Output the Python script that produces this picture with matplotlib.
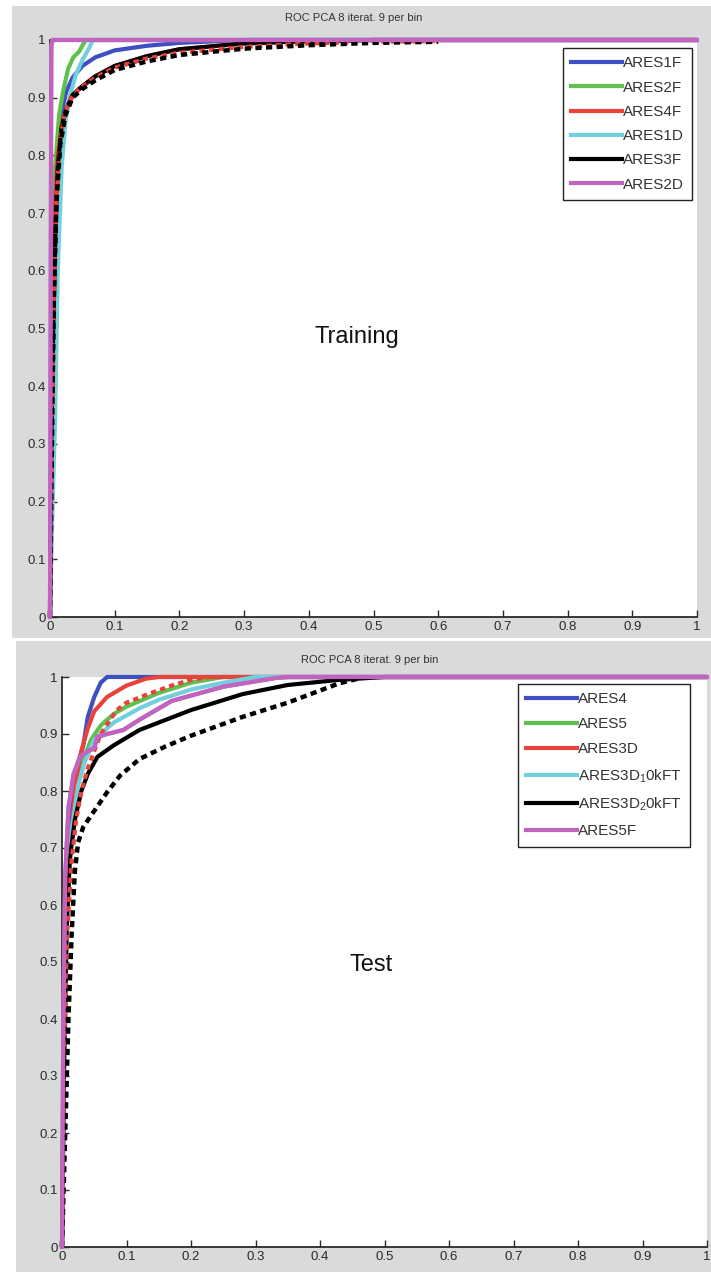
import matplotlib
matplotlib.use("Agg")
import matplotlib.pyplot as plt
from matplotlib.patches import Rectangle
from matplotlib.lines import Line2D

plt.rcParams["font.family"] = ["Liberation Sans", "DejaVu Sans"]
plt.rcParams["mathtext.default"] = "regular"

W, H = 711, 1272

TITLE = "ROC PCA 8 iterat. 9 per bin"
TICKS = [0, 0.1, 0.2, 0.3, 0.4, 0.5, 0.6, 0.7, 0.8, 0.9, 1]
TICK_LABELS = ["0", "0.1", "0.2", "0.3", "0.4", "0.5", "0.6", "0.7", "0.8", "0.9", "1"]

# ---------------- Training ROC curves ----------------
train_labels = ["ARES1F", "ARES2F", "ARES4F", "ARES1D", "ARES3F", "ARES2D"]
train_colors = ["#3d4fc2", "#5fc04c", "#e8433b", "#72cfdd", "#000000", "#c064c0"]

ares1f_fpr = [0, 0.003, 0.008, 0.015, 0.025, 0.035, 0.05, 0.07, 0.1, 0.15, 0.2, 0.3, 1.0]
ares1f_tpr = [0, 0.45, 0.75, 0.86, 0.91, 0.935, 0.955, 0.97, 0.982, 0.99, 0.995, 1.0, 1.0]
ares2f_fpr = [0, 0.003, 0.008, 0.014, 0.02, 0.028, 0.036, 0.045, 0.055, 1.0]
ares2f_tpr = [0, 0.5, 0.78, 0.87, 0.91, 0.95, 0.97, 0.98, 1.0, 1.0]
ares4f_fpr = [0, 0.003, 0.007, 0.012, 0.02, 0.03, 0.045, 0.07, 0.1, 0.15, 0.2, 0.3, 0.4, 0.5, 1.0]
ares4f_tpr = [0, 0.4, 0.7, 0.8, 0.86, 0.895, 0.915, 0.937, 0.955, 0.972, 0.984, 0.994, 0.998, 1.0, 1.0]
ares1d_fpr = [0, 0.003, 0.008, 0.012, 0.018, 0.024, 0.03, 0.04, 0.05, 0.06, 0.066, 1.0]
ares1d_tpr = [0, 0.15, 0.35, 0.6, 0.78, 0.86, 0.9, 0.94, 0.965, 0.985, 1.0, 1.0]
ares3f_fpr = [0, 0.002, 0.005, 0.008, 0.012, 0.018, 0.025, 0.035, 0.05, 0.07, 0.1, 0.15, 0.2, 0.3, 0.4, 0.5, 1.0]
ares3f_tpr = [0, 0.3, 0.5, 0.65, 0.78, 0.85, 0.88, 0.905, 0.92, 0.937, 0.955, 0.972, 0.984, 0.994, 0.998, 1.0, 1.0]
ares2d_fpr = [0, 0.002, 0.004, 1.0]
ares2d_tpr = [0, 0.99, 1.0, 1.0]

train_red_dash_fpr = [0, 0.003, 0.006, 0.01, 0.015, 0.022, 0.03, 0.045, 0.07, 0.1, 0.15, 0.2, 0.3, 0.4, 0.5, 0.6]
train_red_dash_tpr = [0, 0.3, 0.55, 0.72, 0.82, 0.87, 0.895, 0.915, 0.935, 0.952, 0.968, 0.978, 0.988, 0.994, 0.997, 0.998]
train_blk_dash_fpr = [0, 0.003, 0.006, 0.01, 0.016, 0.024, 0.035, 0.05, 0.07, 0.1, 0.15, 0.2, 0.3, 0.4, 0.5, 0.6]
train_blk_dash_tpr = [0, 0.3, 0.55, 0.72, 0.82, 0.87, 0.9, 0.915, 0.93, 0.948, 0.963, 0.974, 0.985, 0.991, 0.995, 0.997]

train_fpr = [ares1f_fpr, ares2f_fpr, ares4f_fpr, ares1d_fpr, ares3f_fpr, ares2d_fpr]
train_tpr = [ares1f_tpr, ares2f_tpr, ares4f_tpr, ares1d_tpr, ares3f_tpr, ares2d_tpr]

# ---------------- Test ROC curves ----------------
test_labels = ["ARES4", "ARES5", "ARES3D", "ARES3D$_1$0kFT", "ARES3D$_2$0kFT", "ARES5F"]
test_colors = ["#3d4fc2", "#5fc04c", "#e8433b", "#72cfdd", "#000000", "#c064c0"]

ares4_fpr = [0, 0.003, 0.007, 0.012, 0.018, 0.025, 0.033, 0.04, 0.05, 0.06, 0.07, 1.0]
ares4_tpr = [0, 0.35, 0.6, 0.72, 0.8, 0.85, 0.88, 0.93, 0.965, 0.99, 1.0, 1.0]
ares5_fpr = [0, 0.003, 0.008, 0.015, 0.025, 0.035, 0.045, 0.06, 0.08, 0.1, 0.15, 0.2, 0.25, 1.0]
ares5_tpr = [0, 0.35, 0.6, 0.73, 0.82, 0.86, 0.89, 0.915, 0.935, 0.948, 0.972, 0.99, 1.0, 1.0]
ares3d_fpr = [0, 0.003, 0.008, 0.015, 0.022, 0.03, 0.04, 0.05, 0.07, 0.1, 0.13, 0.15, 1.0]
ares3d_tpr = [0, 0.35, 0.6, 0.73, 0.82, 0.87, 0.91, 0.94, 0.965, 0.985, 0.997, 1.0, 1.0]
ares3d_10k_fpr = [0, 0.003, 0.008, 0.015, 0.025, 0.035, 0.05, 0.08, 0.12, 0.15, 0.2, 0.25, 0.3, 1.0]
ares3d_10k_tpr = [0, 0.35, 0.6, 0.73, 0.81, 0.85, 0.89, 0.92, 0.945, 0.96, 0.978, 0.99, 1.0, 1.0]
ares3d_20k_fpr = [0, 0.003, 0.007, 0.012, 0.02, 0.03, 0.04, 0.055, 0.08, 0.12, 0.2, 0.28, 0.35, 0.43, 0.5, 1.0]
ares3d_20k_tpr = [0, 0.3, 0.55, 0.68, 0.75, 0.8, 0.83, 0.86, 0.88, 0.907, 0.942, 0.97, 0.986, 0.995, 1.0, 1.0]
ares5f_fpr = [0, 0.002, 0.005, 0.01, 0.018, 0.028, 0.04, 0.05, 0.055, 0.07, 0.095, 0.12, 0.17, 0.25, 0.33, 0.35, 1.0]
ares5f_tpr = [0, 0.4, 0.65, 0.77, 0.83, 0.86, 0.87, 0.875, 0.895, 0.9, 0.907, 0.925, 0.958, 0.983, 0.998, 1.0, 1.0]

test_red_dash_fpr = [0, 0.003, 0.008, 0.015, 0.022, 0.03, 0.04, 0.05, 0.06, 0.085, 0.1, 0.136, 0.17, 0.2, 0.23]
test_red_dash_tpr = [0, 0.3, 0.55, 0.68, 0.75, 0.8, 0.84, 0.87, 0.9, 0.942, 0.955, 0.971, 0.985, 0.995, 1.0]
test_blk_dash_fpr = [0, 0.005, 0.01, 0.015, 0.02, 0.025, 0.033, 0.05, 0.07, 0.09, 0.12, 0.16, 0.2, 0.28, 0.35, 0.43, 0.47]
test_blk_dash_tpr = [0, 0.2, 0.4, 0.55, 0.66, 0.71, 0.737, 0.765, 0.798, 0.827, 0.856, 0.878, 0.897, 0.93, 0.955, 0.989, 1.0]

test_fpr = [ares4_fpr, ares5_fpr, ares3d_fpr, ares3d_10k_fpr, ares3d_20k_fpr, ares5f_fpr]
test_tpr = [ares4_tpr, ares5_tpr, ares3d_tpr, ares3d_10k_tpr, ares3d_20k_tpr, ares5f_tpr]


def fx(px):
    return px / W


def fy(py):
    return 1 - py / H


fig = plt.figure(figsize=(W / 100, H / 100), dpi=100)
fig.patch.set_facecolor("white")

PANEL_GRAY = "#d9dada"


def panel(x0, y0, x1, y1):
    fig.add_artist(Rectangle((fx(x0), fy(y1)), fx(x1) - fx(x0), fy(y0) - fy(y1),
                             transform=fig.transFigure, facecolor=PANEL_GRAY,
                             edgecolor="none", zorder=-10))


def make_axes(x0, y0, x1, y1):
    ax = fig.add_axes([fx(x0), fy(y1), fx(x1) - fx(x0), fy(y0) - fy(y1)])
    ax.set_xlim(0, 1)
    ax.set_ylim(0, 1)
    for s in ("top", "right"):
        ax.spines[s].set_visible(False)
    for s in ("left", "bottom"):
        ax.spines[s].set_color("#2a2a2a")
        ax.spines[s].set_linewidth(1.3)
    ax.set_xticks(TICKS)
    ax.set_yticks(TICKS)
    ax.set_xticklabels(TICK_LABELS)
    ax.set_yticklabels(TICK_LABELS)
    ax.tick_params(direction="in", length=5, width=1, colors="#2a2a2a",
                   labelsize=9.5, pad=3)
    return ax


def draw(ax, fprs, tprs, colors, labels, red_dash, blk_dash, leg_anchor, spacing,
         center_text, text_xy):
    handles = []
    for f, t, c, lab in zip(fprs, tprs, colors, labels):
        ax.plot(f, t, color=c, lw=3, clip_on=False, solid_capstyle="round", zorder=3)
        handles.append(Line2D([], [], color=c, lw=3, label=lab))
    ax.plot(red_dash[0], red_dash[1], color="#e8433b", lw=3, ls=(0, (1.3, 1.0)),
            clip_on=False, zorder=4)
    ax.plot(blk_dash[0], blk_dash[1], color="#000000", lw=3.2, ls=(0, (1.4, 1.0)),
            clip_on=False, zorder=4)
    # the last curve reaches 1 earliest and runs along the top edge above the others
    ax.plot(fprs[-1], tprs[-1], color=colors[-1], lw=3, clip_on=False, zorder=5)

    leg = ax.legend(handles=handles, loc="upper left",
                    bbox_to_anchor=(fx(leg_anchor[0]), fy(leg_anchor[1])),
                    bbox_transform=fig.transFigure,
                    fontsize=11, handlelength=3.3, handletextpad=0.05,
                    labelspacing=spacing, borderpad=0.55,
                    borderaxespad=0, frameon=True, fancybox=False)
    fr = leg.get_frame()
    fr.set_edgecolor("#222222")
    fr.set_linewidth(1.0)
    fr.set_facecolor("white")
    fr.set_alpha(1)
    for txt in leg.get_texts():
        txt.set_color("#333333")
    ax.text(text_xy[0], text_xy[1], center_text, fontsize=17, color="#111111",
            ha="center", va="center", transform=ax.transData)


# Training panel
panel(12, 6, 711, 638)
ax1 = make_axes(50, 40, 697, 617)
fig.text(fx(354), fy(18), TITLE, fontsize=8, color="#333333", ha="center", va="center")
draw(ax1, train_fpr, train_tpr, train_colors, train_labels,
     (train_red_dash_fpr, train_red_dash_tpr), (train_blk_dash_fpr, train_blk_dash_tpr),
     (563, 48), 0.67, "Training", (0.475, 0.485))

# Test panel
panel(16, 641, 711, 1272)
ax2 = make_axes(62, 677, 707, 1247)
fig.text(fx(370), fy(660), TITLE, fontsize=8, color="#333333", ha="center", va="center")
draw(ax2, test_fpr, test_tpr, test_colors, test_labels,
     (test_red_dash_fpr, test_red_dash_tpr), (test_blk_dash_fpr, test_blk_dash_tpr),
     (518, 684), 0.72, "Test", (0.48, 0.495))

fig.savefig("out.png", dpi=100)
